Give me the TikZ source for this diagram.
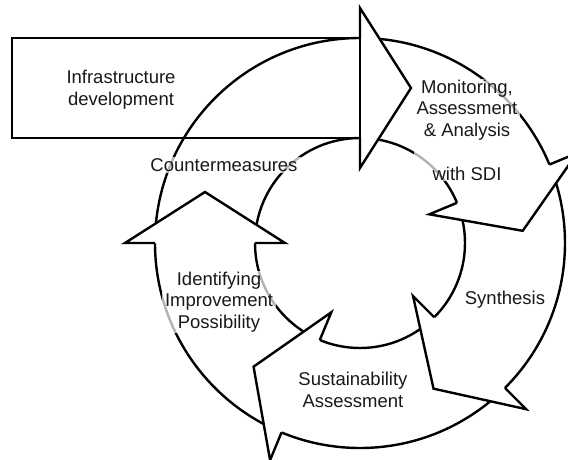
\documentclass[tikz,border=0pt]{standalone}
\usepackage{fontspec}
\setmainfont{Liberation Sans}
\usetikzlibrary{calc}

\begin{document}
\begin{tikzpicture}[
    x=1pt,
    y=1pt,
    line join=miter,
    ring/.style={line width=2.4pt,black},
    head/.style={line width=2.4pt,black,fill=white},
    frame/.style={line width=2.4pt,black},
    label/.style={
        fill=white,
        fill opacity=0.7,
        text opacity=1,
        inner xsep=3pt,
        inner ysep=1pt,
        align=center,
        text=black!90,
        font=\fontsize{18.5}{21.7}\selectfont
    }
]

\clip (-360,-216) rectangle (208,243);

% Ring.
\draw[ring] (0,0) circle[radius=205];
\draw[ring] (0,0) circle[radius=105];

% Heads, at the base angle of each arrow.
\foreach \a in {90,22.5,-45,-112.5,180}{
    \filldraw[head] (\a:105) -- (\a:75) -- ($(\a:155)+(\a-90:51)$) -- (\a:235) -- (\a:205);
}

% Input box.
\draw[frame] (-348,105) rectangle (0,205);

% Labels.
\node[label] (infra) at (-239,153) {Infrastructure\\development};
\node[label] (counter) at (-136,78) {Countermeasures};
\node[label] (monitor) at (107,113) {Monitoring,\\Assessment\\\& Analysis\\[21.7pt]with SDI};
\node[label] (synth) at (145,-57) {Synthesis};
\node[label] (sustain) at (-7,-147) {Sustainability\\Assessment};
\node[label] (improve) at (-141,-59) {Identifying\\Improvement\\Possibility};

\end{tikzpicture}
\end{document}
